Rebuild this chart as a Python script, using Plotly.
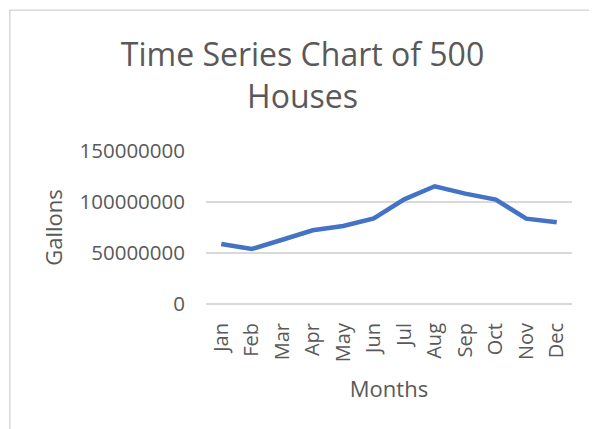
import plotly.graph_objects as go

months = ["Jan", "Feb", "Mar", "Apr", "May", "Jun", "Jul", "Aug", "Sep", "Oct", "Nov", "Dec"]
gallons = [58800000, 53900000, 63000000, 72300000, 76500000, 84000000,
           102600000, 115400000, 108200000, 102300000, 83700000, 80100000]
y_ticks = [0, 50000000, 100000000, 150000000]
y_tick_labels = ["0", "50000000", "100000000", "150000000"]

text_color = "#595959"
grid_color = "#D9D9D9"
font_family = "Open Sans"

fig = go.Figure()
fig.add_trace(go.Scatter(
    x=months, y=gallons, mode="lines",
    line=dict(color="#4472C4", width=4.5),
    hoverinfo="x+y", showlegend=False,
))

fig.update_layout(
    width=597, height=429,
    margin=dict(l=198, r=33, t=143, b=133),
    paper_bgcolor="white", plot_bgcolor="white",
    font=dict(family=font_family, color=text_color, size=20),
    title=dict(
        text="Time Series Chart of 500<br>Houses",
        x=294.5 / 597, xanchor="center",
        y=1 - 58 / 429, yanchor="middle",
        font=dict(family=font_family, size=32, color=text_color),
    ),
    shapes=[dict(
        type="rect", xref="paper", yref="paper",
        x0=-0.536, x1=1.3, y0=-1.2, y1=1.92,
        line=dict(color="#D9D9D9", width=1.5), fillcolor="rgba(0,0,0,0)",
        layer="below",
    )],
)

fig.update_xaxes(
    type="category", range=[-0.5, 11.5],
    tickangle=-90, tickfont=dict(size=20, color=text_color),
    showgrid=False, showline=False, zeroline=False,
    ticks="", ticklabelstandoff=14,
    title=dict(text="Months", font=dict(size=22, color=text_color), standoff=20),
)
fig.update_yaxes(
    range=[0, 150000000], tickvals=y_ticks, ticktext=y_tick_labels,
    tickfont=dict(size=20.5, color=text_color),
    showgrid=True, gridcolor=grid_color, gridwidth=1.5,
    zeroline=True, zerolinecolor=grid_color, zerolinewidth=1.5,
    showline=False, ticks="", ticklabelstandoff=20,
    title=dict(text="Gallons", font=dict(size=22, color=text_color), standoff=10),
)

fig.write_html("out.html")
